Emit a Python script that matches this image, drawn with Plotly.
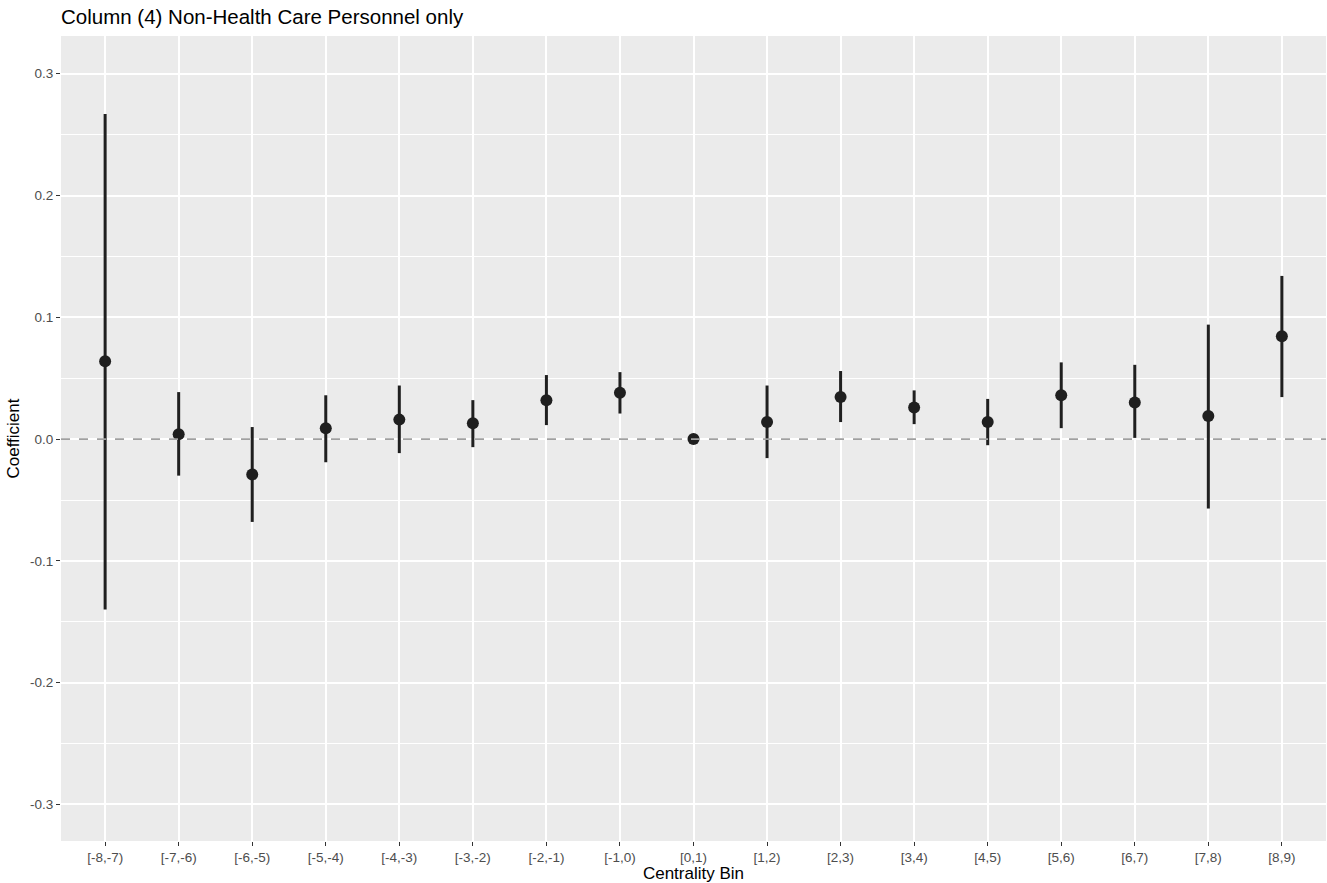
import plotly.graph_objects as go

bins = ["[-8,-7)", "[-7,-6)", "[-6,-5)", "[-5,-4)", "[-4,-3)", "[-3,-2)", "[-2,-1)", "[-1,0)",
        "[0,1)", "[1,2)", "[2,3)", "[3,4)", "[4,5)", "[5,6)", "[6,7)", "[7,8)", "[8,9)"]
coef = [0.064, 0.004, -0.029, 0.009, 0.016, 0.013, 0.032, 0.038,
        0.0, 0.014, 0.0345, 0.026, 0.014, 0.036, 0.030, 0.019, 0.0845]
upper = [0.267, 0.0386, 0.0099, 0.036, 0.044, 0.032, 0.0526, 0.055,
         0.0, 0.044, 0.0559, 0.040, 0.033, 0.063, 0.061, 0.094, 0.134]
lower = [-0.140, -0.030, -0.068, -0.019, -0.0115, -0.0066, 0.0115, 0.021,
         0.0, -0.0156, 0.014, 0.0123, -0.005, 0.009, 0.001, -0.057, 0.0345]
yticks = [-0.3, -0.2, -0.1, 0.0, 0.1, 0.2, 0.3]
ytick_labels = ["-0.3", "-0.2", "-0.1", "0.0", "0.1", "0.2", "0.3"]

err_plus = [u - c for u, c in zip(upper, coef)]
err_minus = [c - l for c, l in zip(coef, lower)]

fig = go.Figure()
fig.add_trace(go.Scatter(
    x=bins, y=coef, mode="markers",
    marker=dict(color="#1f1f1f", size=12),
    error_y=dict(type="data", symmetric=False, array=err_plus, arrayminus=err_minus,
                 color="#1f1f1f", thickness=3, width=0),
    showlegend=False,
))
fig.add_shape(type="line", xref="paper", x0=0, x1=1, yref="y", y0=0, y1=0,
              line=dict(color="#a0a0a0", width=1.6, dash="dash"), layer="above")

fig.update_layout(
    width=1327, height=883,
    margin=dict(l=61, r=1, t=36, b=42),
    paper_bgcolor="white", plot_bgcolor="#ebebeb",
    font=dict(family="Liberation Sans, Arial, sans-serif"),
    title=dict(text="Column (4) Non-Health Care Personnel only", x=61/1327, xanchor="left",
               y=1 - 17/883, yanchor="middle", font=dict(size=20.5, color="black")),
    xaxis=dict(
        type="category", categoryorder="array", categoryarray=bins,
        range=[-0.6, 16.6], showgrid=True, gridcolor="white", gridwidth=1.5,
        zeroline=False, ticks="outside", ticklen=4, tickcolor="#333333", tickwidth=1.2,
        tickfont=dict(size=13.5, color="#4d4d4d"),
        title=dict(text="Centrality Bin", font=dict(size=17, color="black"), standoff=2),
    ),
    yaxis=dict(
        range=[-0.330, 0.331], tickvals=yticks, ticktext=ytick_labels,
        showgrid=True, gridcolor="white", gridwidth=1.5, zeroline=False,
        ticks="outside", ticklen=4, tickcolor="#333333", tickwidth=1.2,
        tickfont=dict(size=13.5, color="#4d4d4d"),
        minor=dict(tickvals=[-0.25, -0.15, -0.05, 0.05, 0.15, 0.25],
                   showgrid=True, gridcolor="white", gridwidth=0.7, ticks=""),
        title=dict(text="Coefficient", font=dict(size=17, color="black"), standoff=6),
    ),
)

fig.write_html("out.html", config={"displayModeBar": False},
               post_script="document.body.style.margin='0';document.body.style.overflow='hidden';")
